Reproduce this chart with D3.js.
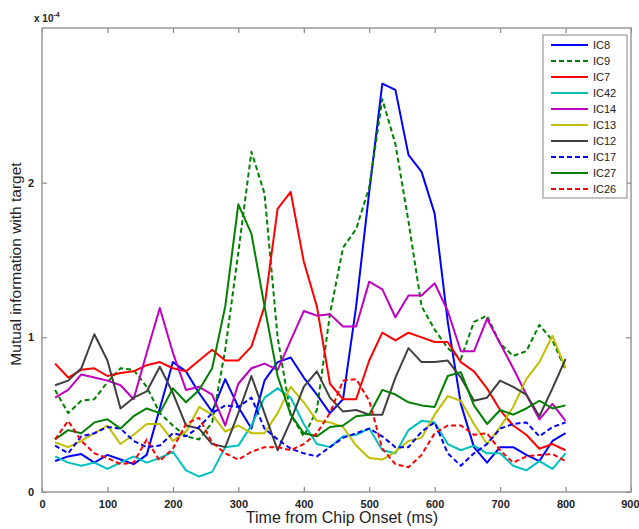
<!DOCTYPE html>
<html>
<head>
<meta charset="utf-8">
<script src="https://cdn.jsdelivr.net/npm/d3@7"></script>
<style>
  body { margin: 0; background: #fff; }
  svg text { font-family: "Liberation Sans", Arial, sans-serif; }
</style>
</head>
<body>
<svg id="chart" width="639" height="529"></svg>
<script>
// time axis, ms (one sample every 20 ms)
const times = d3.range(20, 801, 20);
const xTicks = [0, 100, 200, 300, 400, 500, 600, 700, 800, 900];
const yTicks = [0, 1, 2];

// values in units of 1e-4
const ic8  = [0.2,0.23,0.245,0.19,0.24,0.21,0.18,0.24,0.54,0.84,0.78,0.64,0.52,0.73,0.55,0.41,0.72,0.84,0.87,0.74,0.63,0.51,0.6,1.2,1.94,2.64,2.6,2.18,2.07,1.8,1.1,0.57,0.29,0.19,0.29,0.29,0.24,0.2,0.33,0.38];
const ic9  = [0.66,0.51,0.59,0.6,0.71,0.8,0.79,0.68,0.51,0.43,0.36,0.34,0.45,0.92,1.55,2.2,1.93,1.0,0.5,0.36,0.53,1.15,1.58,1.7,1.97,2.54,2.25,1.75,1.2,1.05,0.93,0.86,1.1,1.14,0.96,0.88,0.91,1.08,0.98,0.79];
const ic7  = [0.83,0.74,0.79,0.8,0.75,0.77,0.78,0.82,0.84,0.8,0.78,0.85,0.92,0.85,0.85,0.94,1.2,1.83,1.94,1.49,1.2,0.7,0.6,0.6,0.85,1.03,0.98,1.03,1.0,0.97,0.97,0.84,0.78,0.67,0.53,0.43,0.37,0.28,0.31,0.27];
const ic42 = [0.23,0.19,0.17,0.19,0.15,0.19,0.23,0.19,0.22,0.26,0.14,0.1,0.13,0.29,0.3,0.43,0.61,0.67,0.61,0.44,0.31,0.29,0.36,0.37,0.41,0.27,0.25,0.4,0.46,0.45,0.31,0.27,0.3,0.25,0.25,0.17,0.14,0.2,0.15,0.25];
const ic14 = [0.61,0.66,0.76,0.74,0.72,0.69,0.6,0.9,1.19,0.9,0.66,0.68,0.63,0.43,0.7,0.8,0.83,0.79,0.98,1.17,1.14,1.15,1.07,1.07,1.36,1.31,1.13,1.27,1.27,1.35,1.17,0.91,0.91,1.12,0.96,0.8,0.63,0.47,0.57,0.46];
const ic13 = [0.32,0.29,0.33,0.38,0.43,0.31,0.37,0.44,0.44,0.33,0.39,0.55,0.5,0.39,0.43,0.38,0.38,0.51,0.68,0.58,0.46,0.45,0.42,0.3,0.22,0.21,0.26,0.33,0.35,0.5,0.62,0.59,0.44,0.31,0.42,0.55,0.73,0.84,1.01,0.8];
const ic12 = [0.69,0.72,0.8,1.02,0.85,0.54,0.61,0.65,0.81,0.64,0.43,0.41,0.31,0.29,0.51,0.75,0.51,0.27,0.46,0.68,0.78,0.61,0.52,0.53,0.5,0.5,0.74,0.93,0.84,0.84,0.85,0.74,0.59,0.61,0.72,0.68,0.63,0.49,0.67,0.86];
const ic17 = [0.3,0.25,0.36,0.38,0.42,0.41,0.33,0.29,0.3,0.38,0.36,0.42,0.51,0.56,0.55,0.61,0.41,0.34,0.28,0.25,0.23,0.29,0.35,0.38,0.41,0.36,0.29,0.29,0.39,0.45,0.25,0.17,0.25,0.31,0.41,0.44,0.45,0.36,0.42,0.45];
const ic27 = [0.34,0.4,0.38,0.45,0.47,0.41,0.49,0.54,0.51,0.67,0.58,0.66,0.8,1.2,1.86,1.67,1.2,0.75,0.5,0.38,0.36,0.42,0.43,0.49,0.5,0.66,0.63,0.58,0.56,0.55,0.75,0.775,0.56,0.44,0.53,0.5,0.54,0.59,0.54,0.56];
const ic26 = [0.34,0.46,0.33,0.25,0.22,0.18,0.19,0.34,0.2,0.28,0.44,0.48,0.32,0.25,0.21,0.26,0.29,0.29,0.27,0.31,0.38,0.51,0.72,0.73,0.59,0.28,0.18,0.16,0.24,0.38,0.43,0.43,0.37,0.38,0.27,0.19,0.23,0.24,0.245,0.2];

const names  = ["IC8", "IC9", "IC7", "IC42", "IC14", "IC13", "IC12", "IC17", "IC27", "IC26"];
const values = [ic8, ic9, ic7, ic42, ic14, ic13, ic12, ic17, ic27, ic26];
const colours = ["#0000ff", "#008000", "#ff0000", "#00bfbf", "#bf00bf", "#bfbf00", "#404040", "#0000ff", "#008000", "#ff0000"];
const dashed  = [false, true, false, false, false, false, false, true, false, true];

const svg = d3.select("#chart");
const margin = {left: 42, top: 28, right: 8, bottom: 37};
const W = 639 - margin.left - margin.right;
const H = 529 - margin.top - margin.bottom;

const x = d3.scaleLinear().domain([0, 900]).range([0, W]);
const y = d3.scaleLinear().domain([0, 3]).range([H, 0]);

const g = svg.append("g")
  .attr("transform", `translate(${margin.left},${margin.top})`);

// series
const line = d3.line()
  .x((d, i) => x(times[i]))
  .y(d => y(d));

values.forEach((vals, k) => {
  g.append("path")
    .datum(vals)
    .attr("fill", "none")
    .attr("stroke", colours[k])
    .attr("stroke-width", 2)
    .attr("stroke-linejoin", "round")
    .attr("stroke-dasharray", dashed[k] ? "5,3" : null)
    .attr("d", line);
});

// axes, matlab style: ticks inside, on all sides
const tickLen = 5;
const axBottom = g.append("g").attr("transform", `translate(0,${H})`)
  .call(d3.axisBottom(x).tickValues(xTicks).tickSizeInner(-tickLen).tickSizeOuter(0).tickPadding(8));
const axTop = g.append("g")
  .call(d3.axisTop(x).tickValues(xTicks).tickSizeInner(-tickLen).tickSizeOuter(0).tickFormat(""));
const axLeft = g.append("g")
  .call(d3.axisLeft(y).tickValues(yTicks).tickFormat(d3.format("d")).tickSizeInner(-tickLen).tickSizeOuter(0).tickPadding(8));
const axRight = g.append("g").attr("transform", `translate(${W},0)`)
  .call(d3.axisRight(y).tickValues(yTicks).tickSizeInner(-tickLen).tickSizeOuter(0).tickFormat(""));

[axBottom, axTop, axLeft, axRight].forEach(a => {
  a.select(".domain").remove();
  a.selectAll("line").attr("stroke", "#777");
  a.selectAll("text")
    .attr("fill", "#222")
    .style("font-size", "11px")
    .style("font-weight", "bold");
});
// last x label sits at the window edge: keep it inside
axBottom.selectAll(".tick text").filter(d => d === 900)
  .attr("text-anchor", "end").attr("dx", 8);

g.append("rect")
  .attr("width", W).attr("height", H)
  .attr("fill", "none").attr("stroke", "#999").attr("stroke-width", 1.5);

// exponent
const expo = svg.append("text")
  .attr("x", 34).attr("y", 22)
  .style("font-size", "10px").style("font-weight", "bold").attr("fill", "#222");
expo.append("tspan").text("x 10");
expo.append("tspan").attr("dy", -5).style("font-size", "7px").text("-4");

// axis titles
svg.append("text")
  .attr("x", 342).attr("y", 523)
  .attr("text-anchor", "middle")
  .style("font-size", "16px").attr("fill", "#222")
  .text("Time from Chip Onset (ms)");

svg.append("text")
  .attr("transform", "translate(21,264) rotate(-90)")
  .attr("text-anchor", "middle")
  .style("font-size", "15.5px").attr("fill", "#222")
  .text("Mutual information with target");

// legend
const lg = svg.append("g").attr("transform", "translate(543,35)");
lg.append("rect")
  .attr("width", 84).attr("height", 163)
  .attr("fill", "#fff").attr("stroke", "#999").attr("stroke-width", 1.2);
names.forEach((n, k) => {
  const yy = 10 + k * 16;
  lg.append("line")
    .attr("x1", 8).attr("x2", 45).attr("y1", yy).attr("y2", yy)
    .attr("stroke", colours[k]).attr("stroke-width", 2)
    .attr("stroke-dasharray", dashed[k] ? "5,3" : null);
  lg.append("text")
    .attr("x", 50).attr("y", yy + 4)
    .style("font-size", "11px").attr("fill", "#222")
    .text(n);
});
</script>
</body>
</html>
